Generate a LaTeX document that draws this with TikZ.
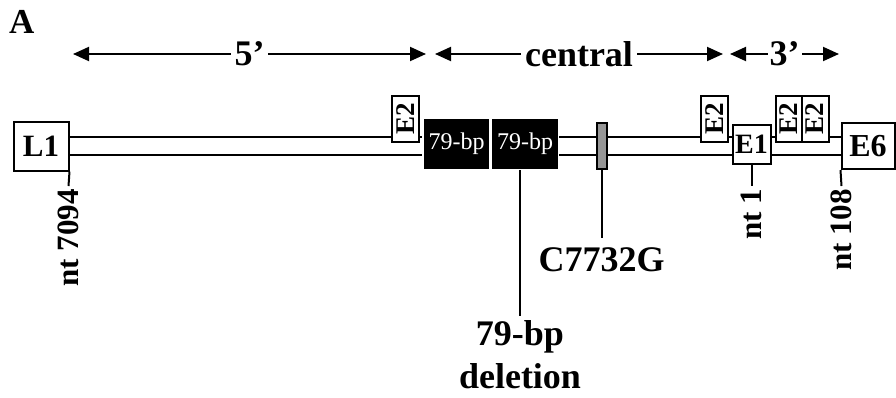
\documentclass[tikz,border=0pt]{standalone}
\usepackage{fontspec}
\usepackage{graphicx}
\setmainfont{Liberation Serif}
\usetikzlibrary{arrows.meta, calc}
\definecolor{snpgray}{RGB}{150,150,150}
\tikzset{
  gene/.style={rectangle,draw,line width=2pt,fill=white,inner sep=0pt,font=\fontsize{31}{31}\selectfont\bfseries},
  site/.style={gene,minimum width=27pt,minimum height=46pt,font=\fontsize{27}{27}\selectfont\bfseries},
  repeatbox/.style={rectangle,fill=black,draw=white,line width=1.5pt,text=white,inner sep=0pt,minimum width=67pt,minimum height=51pt,font=\fontsize{24}{24}\selectfont},
  snp/.style={rectangle,draw,line width=2pt,fill=snpgray,minimum width=10pt,minimum height=46pt,inner sep=0pt},
  rail/.style={line width=1.9pt},
  pin/.style={line width=2pt},
  region/.style={line width=1.9pt,{Triangle[length=16pt,width=14pt]}-{Triangle[length=16pt,width=14pt]}},
  regionlabel/.style={fill=white,inner sep=4pt,font=\fontsize{36}{36}\selectfont\bfseries},
  tag/.style={anchor=north,inner sep=0pt,align=center,font=\fontsize{36}{43}\selectfont\bfseries},
  ntlabel/.style={rotate=90,anchor=east,inner sep=1pt,outer sep=2pt,font=\fontsize{31}{31}\selectfont\bfseries}
}

\begin{document}
\begin{tikzpicture}[x=1pt,y=-1pt]
\useasboundingbox (0,0) rectangle (896,397);

% panel letter
\node[anchor=base west,inner sep=0pt,font=\fontsize{35}{35}\selectfont\bfseries] (panel) at (9,33) {A};

% regions
\coordinate (fivel) at (73,54);
\coordinate (fiver) at (426,54);
\coordinate (cenl) at (435,54);
\coordinate (cenr) at (723,54);
\coordinate (threel) at (730,54);
\coordinate (threer) at (839,54);
\draw[region] (fivel) -- node[regionlabel] (five) {5’} (fiver);
\draw[region] (cenl) -- node[regionlabel] (cen) {central} (cenr);
\draw[region] (threel) -- node[regionlabel,inner sep=2pt] (three) {3’} (threer);

% genome elements
\node[gene,minimum width=55pt,minimum height=49pt] (L1) at (41,146) {L1};
\node[site] (e2a) at (405.5,119) {\rotatebox{90}{E2}};
\node[repeatbox] (bpa) at (456.5,144) {79-bp};
\node[repeatbox] (bpb) at (525,144) {79-bp};
\node[snp] (bar) at (601.5,145.5) {};
\node[site] (e2b) at (714.5,119) {\rotatebox{90}{E2}};
\node[gene,minimum width=38pt,minimum height=39pt,font=\fontsize{28}{28}\selectfont\bfseries] (E1) at (751.5,144) {E1};
\node[site] (e2c) at (789,119) {\rotatebox{90}{E2}};
\node[site] (e2d) at (815,119) {\rotatebox{90}{E2}};
\node[gene,minimum width=53pt,minimum height=46pt,font=\fontsize{32}{32}\selectfont\bfseries] (E6) at (868,146) {E6};

% the two rails
\coordinate (top) at (0,137);
\coordinate (bot) at (0,155);
\foreach \a/\b in {L1/e2a, e2a/bpa, bpb/bar, bar/e2b, e2b/E1, E1/e2c, e2d/E6}
  \draw[rail] (\a.east |- top) -- (\b.west |- top);
\foreach \a/\b in {L1/bpa, bpb/bar, bar/E1, E1/E6}
  \draw[rail] (\a.east |- bot) -- (\b.west |- bot);

% labels below
\node[ntlabel] (n7094) at (68.5,186) {nt 7094};
\node[ntlabel] (n1) at (751.5,186) {nt 1};
\node[ntlabel] (n108) at (841.5,186) {nt 108};
\node[tag,outer sep=5pt] (del) at (520,316) {79-bp\\deletion};
\node[tag,outer sep=10pt] (snpname) at (601.5,238) {C7732G};

\draw[pin] (L1.south east) -- (n7094.east);
\draw[pin] (E1.south) -- (n1.east);
\draw[pin] (E6.south west) -- (n108.east);
\draw[pin] (del.north |- bpb.south) -- (del.north);
\draw[pin] (bar.south) -- (snpname.north);
\end{tikzpicture}
\end{document}
